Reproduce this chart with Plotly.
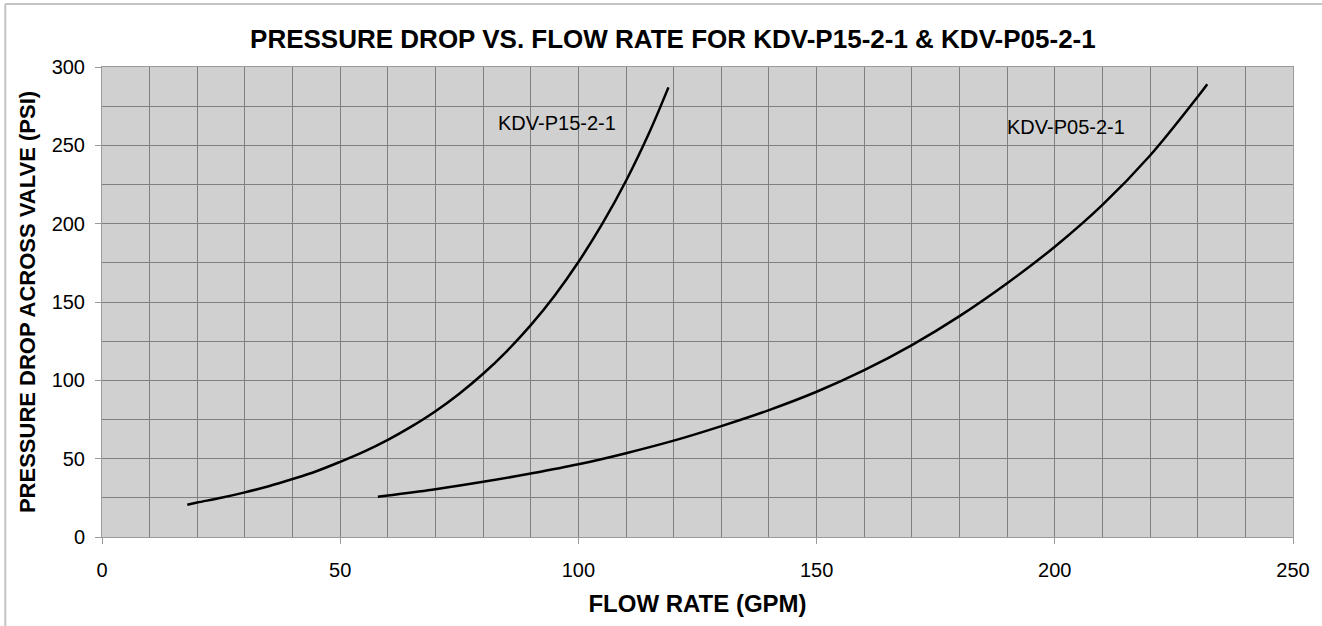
import plotly.graph_objects as go

# KDV-P15-2-1 curve (flow GPM, pressure drop PSI)
p15_flow = [17.9, 20, 25, 30, 35, 40, 45, 50, 55, 60, 65, 70, 75, 80, 85, 90, 95, 100, 105, 110, 115, 118.9]
p15_psi = [20.6, 22, 25, 28.5, 32.4, 37, 42, 48, 54.5, 62, 70.6, 80.3, 91.5, 104.2, 118.7, 135.2, 154,
           175.5, 199.8, 227.4, 259, 287]

# KDV-P05-2-1 curve
p05_flow = [57.9, 60, 70, 80, 90, 100, 110, 120, 130, 140, 150, 160, 170, 180, 190, 200, 210, 220, 230, 232]
p05_psi = [25.7, 26.5, 30.5, 35.2, 40.5, 46.4, 53.5, 61.5, 70.8, 81, 92.7, 106.5, 122.5, 141, 162,
           185.3, 212, 243.5, 281, 289]

labels = ["KDV-P15-2-1", "KDV-P05-2-1"]
label_x = [95.5, 202.3]
label_y = [264, 262]

x_ticks = [0, 50, 100, 150, 200, 250]
y_ticks = [0, 50, 100, 150, 200, 250, 300]

FONT = "Liberation Sans, Arial, sans-serif"

fig = go.Figure()
fig.add_trace(go.Scatter(x=p15_flow, y=p15_psi, mode="lines", line=dict(color="black", width=2.5, shape="spline"),
                         name=labels[0]))
fig.add_trace(go.Scatter(x=p05_flow, y=p05_psi, mode="lines", line=dict(color="black", width=2.5, shape="spline"),
                         name=labels[1]))

for t, lx, ly in zip(labels, label_x, label_y):
    fig.add_annotation(x=lx, y=ly, text=t, showarrow=False, font=dict(family=FONT, size=20, color="black"),
                       xanchor="center", yanchor="middle")

axis_common = dict(
    showline=True, linecolor="#9a9a9a", linewidth=1, mirror=True,
    ticks="outside", ticklen=6, tickcolor="#9a9a9a", tickwidth=1,
    showgrid=True, gridcolor="#808080", gridwidth=1,
    zeroline=False,
    tickfont=dict(family=FONT, size=20, color="black"),
)

fig.update_xaxes(range=[0, 250], tickvals=x_ticks, ticklabelstandoff=9, **axis_common,
                 minor=dict(dtick=10, showgrid=True, gridcolor="#808080", gridwidth=1, ticks=""),
                 title=dict(text="<b>FLOW RATE (GPM)</b>", font=dict(family=FONT, size=24, color="black"), standoff=15))
fig.update_yaxes(range=[0, 300], tickvals=y_ticks, ticklabelstandoff=6, **axis_common,
                 minor=dict(dtick=25, showgrid=True, gridcolor="#808080", gridwidth=1, ticks=""),
                 title=dict(text="<b>PRESSURE DROP ACROSS VALVE (PSI)</b>", font=dict(family=FONT, size=22, color="black"), standoff=9))

# light frame along the top and left edges of the picture
fig.add_shape(type="line", xref="paper", yref="paper", x0=-0.0812, x1=1.03, y0=1.134, y1=1.134,
              line=dict(color="#c4c4c4", width=2))
fig.add_shape(type="line", xref="paper", yref="paper", x0=-0.0812, x1=-0.0812, y0=-0.2, y1=1.134,
              line=dict(color="#c4c4c4", width=2))

fig.update_layout(
    width=1322, height=626,
    margin=dict(l=102, r=26, t=67, b=89),
    paper_bgcolor="white", plot_bgcolor="#d0d0d0",
    showlegend=False,
    title=dict(text="<b>PRESSURE DROP VS. FLOW RATE FOR KDV-P15-2-1 & KDV-P05-2-1</b>",
               font=dict(family=FONT, size=26, color="black"),
               x=0.509, xanchor="center", y=1 - 39 / 626, yanchor="middle"),
)

fig.write_html("out.html", config={"displayModeBar": False},
               post_script="document.body.style.margin='0';document.body.style.overflow='hidden';")
